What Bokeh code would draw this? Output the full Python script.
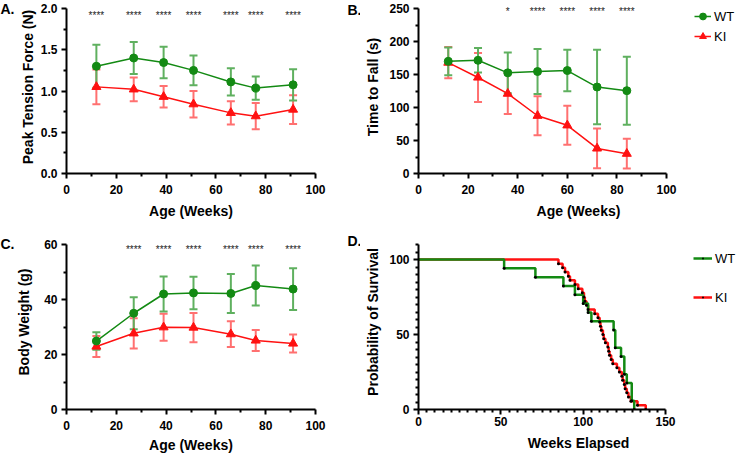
from bokeh.plotting import figure
from bokeh.models import (Range1d, FixedTicker, Label, Legend, LegendItem)
from bokeh.layouts import column, row
from bokeh.embed import file_html
from bokeh.resources import INLINE
from bokeh.core.properties import value

# ---------------- data ----------------
# A. Peak tension force (N)
force_age = [12, 27, 39, 51, 66, 76, 91]
force_wt = [1.30, 1.40, 1.345, 1.25, 1.11, 1.035, 1.075]
force_wt_sd = [0.26, 0.195, 0.19, 0.18, 0.165, 0.14, 0.19]
force_ki = [1.05, 1.02, 0.93, 0.84, 0.735, 0.695, 0.775]
force_ki_sd = [0.21, 0.145, 0.13, 0.16, 0.14, 0.16, 0.175]
force_sig = ["****", "****", "****", "****", "****", "****", "****"]

# B. Time to fall (s)
fall_age = [12, 24, 36, 48, 60, 72, 84]
fall_wt = [170, 171.5, 152.5, 154.5, 156, 131, 125.5]
fall_wt_sd = [21, 18.5, 31, 34, 31.5, 56.5, 51.5]
fall_ki = [168, 145.5, 121, 87.5, 73, 38, 30]
fall_ki_sd = [23.5, 37, 31, 29.5, 29.5, 30, 22.5]
fall_sig = ["*", "****", "****", "****", "****"]
fall_sig_age = [36, 48, 60, 72, 84]

# C. Body weight (g)
weight_age = [12, 27, 39, 51, 66, 76, 91]
weight_wt = [24.9, 35.0, 42.0, 42.4, 42.2, 45.1, 43.8]
weight_wt_sd = [3.2, 5.8, 6.4, 5.9, 7.1, 7.3, 7.6]
weight_ki = [22.9, 27.7, 29.9, 29.8, 27.4, 25.1, 24.0]
weight_ki_sd = [3.8, 5.5, 4.9, 5.3, 4.7, 3.8, 3.3]
weight_sig = ["****", "****", "****", "****", "****", "****"]
weight_sig_age = [27, 39, 51, 66, 76, 91]

# D. Age at death (weeks elapsed), one entry per animal
death_wt = [52, 71, 88, 95, 100, 103, 105, 118.5, 119.5, 119.5, 123, 125, 125,
            126.5, 129.5, 129.5, 131]
death_ki = [85, 87.5, 89, 91, 92, 95, 97, 99.5, 100.5, 101, 102, 103, 107, 109,
            110, 110.5, 111, 112, 112.5, 113.5, 115, 115.5, 116, 117, 118, 120.5,
            122, 123.5, 124, 125, 125.5, 126.5, 127.5, 129, 133, 138]

age_ticks = [0, 20, 40, 60, 80, 100]
age_minor = [10, 30, 50, 70, 90]
force_ticks = [0, 0.5, 1.0, 1.5, 2.0]
force_tick_labels = ["0.0", "0.5", "1.0", "1.5", "2.0"]
fall_ticks = [0, 50, 100, 150, 200, 250]
weight_ticks = [0, 20, 40, 60]
surv_x_ticks = [0, 50, 100, 150]
surv_y_ticks = [0, 50, 100]

# ---------------- styling ----------------
GREEN = "#138a13"
GREEN_BAR = "#5fb05f"
RED = "#ff1111"
RED_BAR = "#ff7070"
FONT = "Liberation Sans"


def make_fig(width, height, left, right, bottom, x_top, x_pad_px, y_top, y_pad_px):
    """Frame runs to the top edge (and, for x_pad_px > 0, to the right edge);
    the ranges are padded by that many pixels and the axes are bounded to
    the data extent."""
    frame_w = width - left - right
    frame_h = height - bottom
    x_end = x_top * frame_w / (frame_w - x_pad_px)
    y_end = y_top * frame_h / (frame_h - y_pad_px)
    p = figure(width=width, height=height, x_range=Range1d(0, x_end),
               y_range=Range1d(0, y_end), output_backend="svg",
               toolbar_location=None, min_border_left=left,
               min_border_right=right, min_border_top=0,
               min_border_bottom=bottom)
    p.outline_line_color = None
    p.xgrid.visible = False
    p.ygrid.visible = False
    p.background_fill_color = "white"
    p.border_fill_color = "white"
    p.xaxis.bounds = (0, x_top)
    p.yaxis.bounds = (0, y_top)
    for ax in (p.xaxis[0], p.yaxis[0]):
        ax.axis_line_width = 2
        ax.axis_line_color = "black"
        ax.major_tick_line_width = 2
        ax.minor_tick_line_width = 2
        ax.major_tick_line_color = "black"
        ax.minor_tick_line_color = "black"
        ax.major_tick_out = 5
        ax.major_tick_in = 0
        ax.minor_tick_out = 3
        ax.minor_tick_in = 0
        ax.major_label_text_font = FONT
        ax.major_label_text_font_style = "bold"
        ax.major_label_text_font_size = "12px"
        ax.major_label_text_color = "black"
        ax.axis_label_text_font = FONT
        ax.axis_label_text_font_style = "bold"
        ax.axis_label_text_font_size = "14px"
        ax.axis_label_text_color = "black"
    return p


def letter(p, text, dx, dy):
    # panel letter kept in the right-hand side panel (not clipped to the frame)
    p.add_layout(Label(x=dx, y=dy, x_units="screen", y_units="screen",
                       text=text, text_font=FONT, text_font_style="bold",
                       text_font_size="14px", text_baseline="middle",
                       text_color="black"), "right")


def errorbars(p, x, y, sd, color):
    lo = [a - b for a, b in zip(y, sd)]
    hi = [a + b for a, b in zip(y, sd)]
    p.segment(x0=x, y0=lo, x1=x, y1=hi, line_color=color, line_width=2)
    p.scatter(x=x + x, y=lo + hi, marker="dash", size=8, line_color=color,
              line_width=2)


def mean_panel(p, x, wt, wt_sd, ki, ki_sd):
    errorbars(p, x, ki, ki_sd, RED_BAR)
    errorbars(p, x, wt, wt_sd, GREEN_BAR)
    l_ki = p.line(x, ki, line_color=RED, line_width=1.5)
    m_ki = p.scatter(x, ki, marker="triangle", size=9, fill_color=RED,
                     line_color=RED)
    l_wt = p.line(x, wt, line_color=GREEN, line_width=1.5)
    m_wt = p.scatter(x, wt, marker="circle", size=8, fill_color=GREEN,
                     line_color=GREEN)
    return (l_wt, m_wt), (l_ki, m_ki)


def stars(p, x, y, labels):
    p.text(x=x, y=[y] * len(x), text=labels, text_align="center",
           text_baseline="middle", text_font=value(FONT),
           text_font_size="10px", text_color="#222222")


def km_curve(times):
    n = len(times)
    xs, ys = [0.0], [100.0]
    dead = 0
    for t in sorted(set(times)):
        dead += times.count(t)
        xs.append(t)
        ys.append(100.0 * (n - dead) / n)
    return xs, ys


def style_legend(leg, glyph_w, spacing):
    leg.label_text_font = FONT
    leg.label_text_font_size = "13px"
    leg.label_text_color = "black"
    leg.glyph_width = glyph_w
    leg.glyph_height = 20
    leg.label_height = 20
    leg.label_standoff = 3
    leg.spacing = spacing
    leg.padding = 0
    leg.margin = 0
    leg.border_line_color = None
    leg.background_fill_alpha = 0


# ---------------- A ----------------
pA = make_fig(360, 234, 66, 45, 61, 100, 0, 2.0, 8)
pA.xaxis.ticker = FixedTicker(ticks=age_ticks, minor_ticks=age_minor)
pA.yaxis.ticker = FixedTicker(ticks=force_ticks, minor_ticks=[0.25, 0.75, 1.25, 1.75])
pA.yaxis.major_label_overrides = {t: s for t, s in zip(force_ticks, force_tick_labels)}
pA.xaxis.axis_label = "Age (Weeks)"
pA.yaxis.axis_label = "Peak Tension Force (N)"
pA.yaxis.axis_label_standoff = 2
pA.yaxis.major_label_standoff = 4
pA.xaxis.major_label_standoff = 6
pA.xaxis.axis_label_standoff = 6
mean_panel(pA, force_age, force_wt, force_wt_sd, force_ki, force_ki_sd)
stars(pA, force_age, 1.92, force_sig)
letter(pA, "B.", 32, 164)
letter(pA, "A.", -329, 164.5)

# ---------------- B ----------------
pB = make_fig(378, 234, 58, 0, 61, 100, 72, 250, 8)
pB.xaxis.ticker = FixedTicker(ticks=age_ticks, minor_ticks=age_minor)
pB.yaxis.ticker = FixedTicker(ticks=fall_ticks, minor_ticks=[25, 75, 125, 175, 225])
pB.xaxis.axis_label = "Age (Weeks)"
pB.yaxis.axis_label = "Time to Fall (s)"
pB.yaxis.axis_label_standoff = 5
pB.yaxis.major_label_standoff = 4
pB.xaxis.major_label_standoff = 6
pB.xaxis.axis_label_standoff = 6
(bw_l, bw_m), (bk_l, bk_m) = mean_panel(pB, fall_age, fall_wt, fall_wt_sd,
                                        fall_ki, fall_ki_sd)
stars(pB, fall_sig_age, 245, fall_sig)
# the legend's location is its lower-left corner, measured from the frame's
# lower-left corner
legB = Legend(items=[LegendItem(label="WT", renderers=[bw_l, bw_m]),
                     LegendItem(label="KI", renderers=[bk_l, bk_m])],
              location=(276, 127), orientation="vertical")
style_legend(legB, 17, 0)
pB.add_layout(legB, "center")

# ---------------- C ----------------
pC = make_fig(360, 221, 66, 45, 46, 100, 0, 60, 10)
pC.xaxis.ticker = FixedTicker(ticks=age_ticks, minor_ticks=age_minor)
pC.yaxis.ticker = FixedTicker(ticks=weight_ticks, minor_ticks=[10, 30, 50])
pC.xaxis.axis_label = "Age (Weeks)"
pC.yaxis.axis_label = "Body Weight (g)"
pC.yaxis.axis_label_standoff = 9
pC.yaxis.major_label_standoff = 4
pC.xaxis.major_label_standoff = 6
pC.xaxis.axis_label_standoff = 4
mean_panel(pC, weight_age, weight_wt, weight_wt_sd, weight_ki, weight_ki_sd)
stars(pC, weight_sig_age, 58.3, weight_sig)
letter(pC, "D.", 32, 169)
letter(pC, "C.", -329, 166)

# ---------------- D ----------------
pD = make_fig(378, 221, 58, 0, 46, 150, 73, 110, 10)
pD.xaxis.ticker = FixedTicker(ticks=surv_x_ticks,
                              minor_ticks=[v for v in range(5, 150, 5) if v % 50])
pD.yaxis.ticker = FixedTicker(ticks=surv_y_ticks,
                              minor_ticks=[v for v in range(5, 111, 5) if v % 50])
pD.xaxis.axis_label = "Weeks Elapsed"
pD.yaxis.axis_label = "Probability of Survival"
pD.yaxis.axis_label_standoff = 5
pD.yaxis.major_label_standoff = 4
pD.xaxis.major_label_standoff = 2
pD.xaxis.axis_label_standoff = 6

kx_wt, ky_wt = km_curve(death_wt)
kx_ki, ky_ki = km_curve(death_ki)
s_ki = pD.step(kx_ki, ky_ki, mode="after", line_color=RED, line_width=2.5)
s_wt = pD.step(kx_wt, ky_wt, mode="after", line_color=GREEN, line_width=2.5)
# small black event dots at each step
d_ki = pD.scatter(kx_ki[1:], ky_ki[1:], marker="dot", size=12,
                  line_color="black", fill_color="black")
d_wt = pD.scatter(kx_wt[1:], ky_wt[1:], marker="dot", size=12,
                  line_color="black", fill_color="black")
legD = Legend(items=[LegendItem(label="WT", renderers=[s_wt, d_wt]),
                     LegendItem(label="KI", renderers=[s_ki, d_ki])],
              location=(275, 102), orientation="vertical")
style_legend(legD, 19, 19)
pD.add_layout(legD, "center")

layout = column(row(pA, pB), row(pC, pD))
open("out.html", "w").write(file_html(layout, INLINE))
